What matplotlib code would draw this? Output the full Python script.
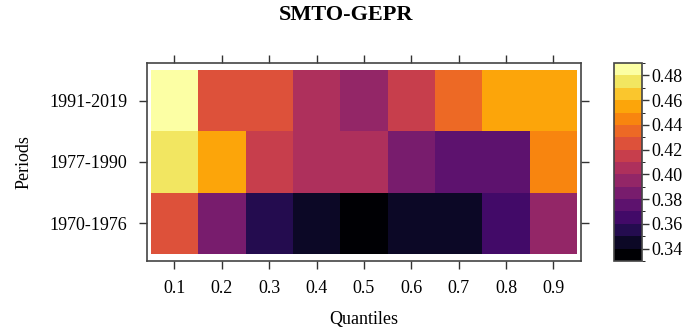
import numpy as np
import matplotlib
matplotlib.use('Agg')
import matplotlib.pyplot as plt
from matplotlib.colors import ListedColormap, BoundaryNorm

plt.rcParams['font.family'] = ['Liberation Serif', 'DejaVu Serif']

# quantile regression coefficients per period
cuantiles = [0.1, 0.2, 0.3, 0.4, 0.5, 0.6, 0.7, 0.8, 0.9]
periodos = ['1970-1976', '1977-1990', '1991-2019']
coef_1970 = [0.425, 0.385, 0.355, 0.345, 0.335, 0.345, 0.345, 0.365, 0.395]
coef_1977 = [0.475, 0.455, 0.415, 0.405, 0.405, 0.385, 0.375, 0.375, 0.445]
coef_1991 = [0.485, 0.425, 0.425, 0.405, 0.395, 0.415, 0.435, 0.455, 0.455]

z = np.array([coef_1970, coef_1977, coef_1991])

# 16 color bands as in lattice levelplot
niveles = np.linspace(0.33, 0.49, 17)
colores = ListedColormap(plt.cm.inferno(np.linspace(0, 1, 16)))
norma = BoundaryNorm(niveles, colores.N)

fig = plt.figure(figsize=(6.86, 3.32), dpi=100)
ax = fig.add_axes([0.2143, 0.2139, 0.6326, 0.5963])
cax = fig.add_axes([0.895, 0.2139, 0.041, 0.5963])

x_bordes = np.arange(0.05, 1.0, 0.1)
y_bordes = np.arange(0.5, 4.0, 1.0)
malla = ax.pcolormesh(x_bordes, y_bordes, z, cmap=colores, norm=norma)

ax.set_xlim(0.042, 0.958)
ax.set_ylim(0.39, 3.61)
ax.set_xticks(cuantiles)
ax.set_xticklabels(['%.1f' % c for c in cuantiles])
ax.set_yticks([1, 2, 3])
ax.set_yticklabels(periodos)
ax.tick_params(axis='both', which='both', direction='out', length=6, width=1,
               color='#333333', labelsize=13, top=True, right=True, pad=8)
for s in ax.spines.values():
    s.set_color('#444444')
    s.set_linewidth(1.2)

ax.set_xlabel('Quantiles', fontsize=13, labelpad=10)
ax.set_ylabel('Periods', fontsize=13, labelpad=12)
fig.suptitle('SMTO-GEPR', fontsize=16, fontweight='bold', x=0.505, y=0.985)

cb = fig.colorbar(malla, cax=cax, ticks=np.arange(0.34, 0.481, 0.02))
cb.ax.set_yticklabels(['%.2f' % t for t in np.arange(0.34, 0.481, 0.02)])
cb.ax.tick_params(direction='out', length=5, width=1, color='#333333',
                  labelsize=13, pad=2)
cb.outline.set_edgecolor('#444444')
cb.outline.set_linewidth(1.2)

fig.savefig('out.png', dpi=100)
